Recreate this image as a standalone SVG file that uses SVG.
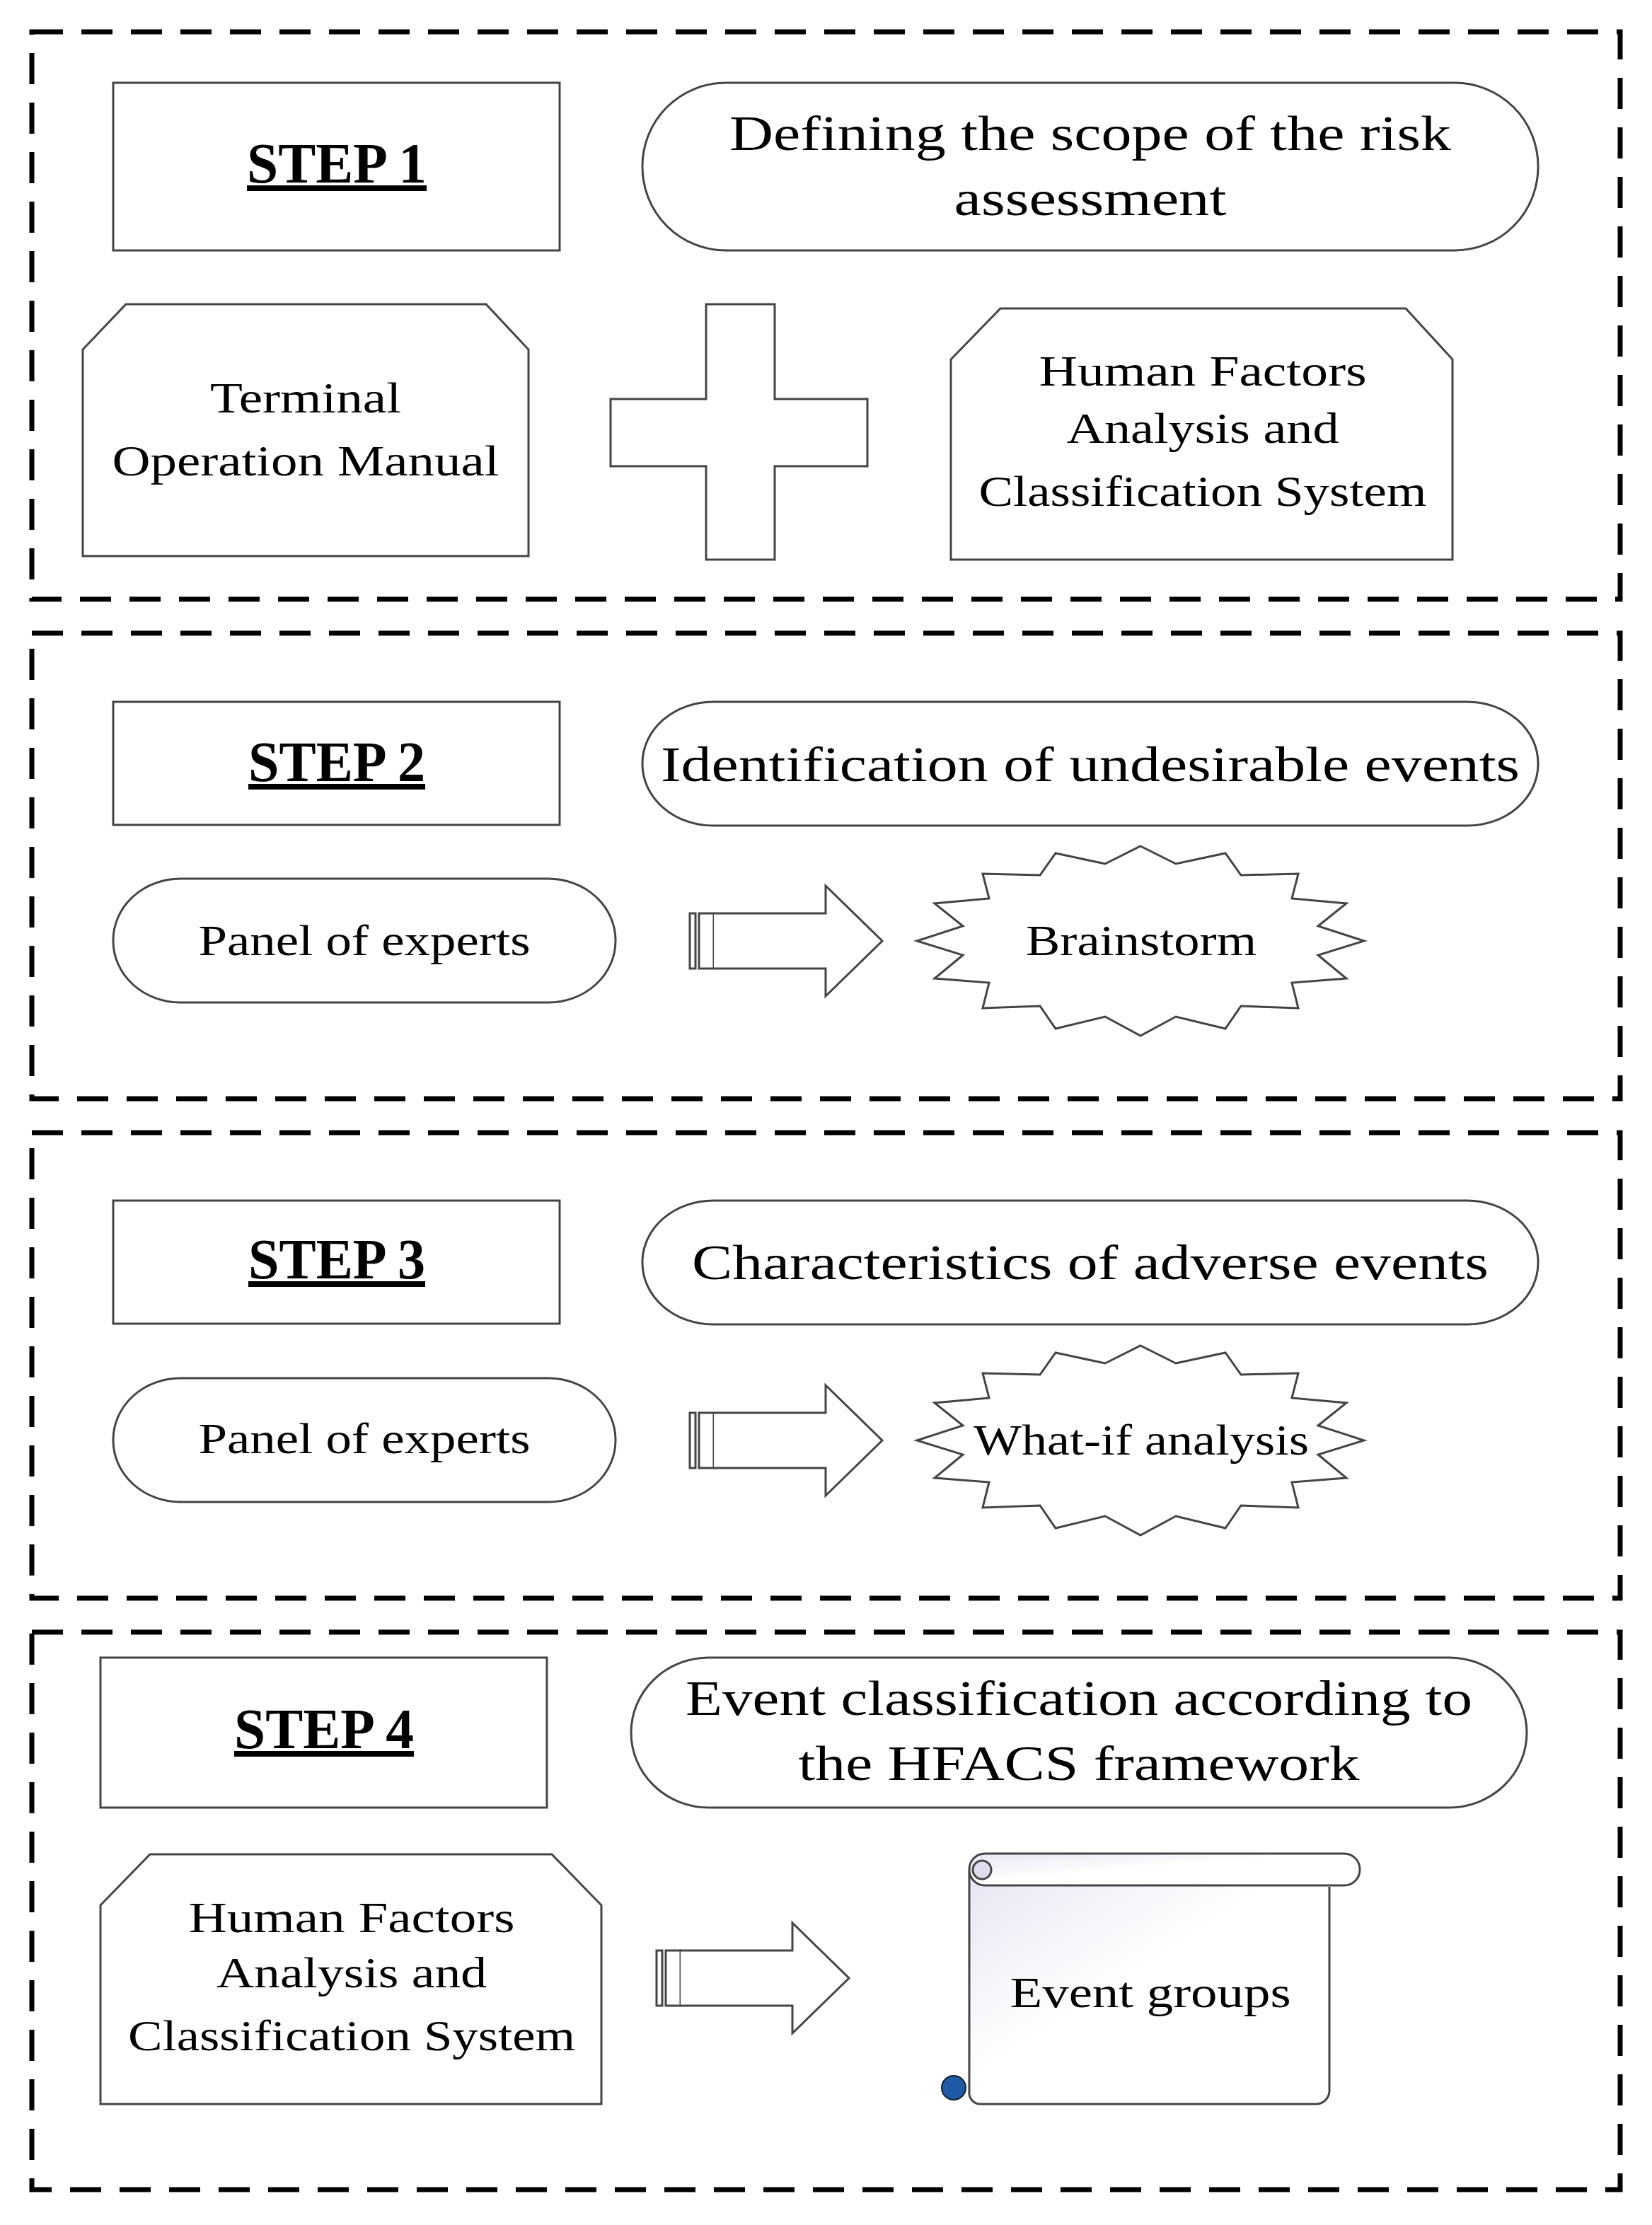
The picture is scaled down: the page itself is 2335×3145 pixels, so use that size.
<svg xmlns="http://www.w3.org/2000/svg" width="2335" height="3145" viewBox="0 0 2335 3145">
<style>
.frame{fill:none;stroke:#000;stroke-width:7;stroke-dasharray:44 26}
.sh{fill:#fff;stroke:#444;stroke-width:3}
.t{font-family:"Liberation Serif","DejaVu Serif",serif;fill:#000;text-anchor:middle}
.step{font-weight:bold;font-size:80px;text-decoration:underline}
.big{font-size:70px}
.mid{font-size:62px}
</style>
<defs>
<linearGradient id="sg" x1="0" y1="0" x2="1" y2="1"><stop offset="0" stop-color="#e6e6f4"/><stop offset="0.45" stop-color="#ffffff"/></linearGradient>
<path id="star" d="M0,-134 L50,-109 L120,-124 L142,-93 L223,-95 L214,-60 L291,-53 L251,-21 L316,0 L251,20 L291,53 L214,59 L223,95 L142,92 L120,124 L50,107 L0,134 L-50,107 L-120,124 L-142,92 L-223,95 L-214,59 L-291,53 L-251,20 L-316,0 L-251,-21 L-291,-53 L-214,-60 L-223,-95 L-142,-93 L-120,-124 L-50,-109 Z"/>
<g id="arrow">
<rect x="0" y="-39" width="8" height="78"/>
<rect x="13" y="-39" width="21" height="78"/>
<path d="M34,-39 H192 V-78 L272,0 L192,78 V39 H34"/>
</g>
</defs>
<g id="frames">
<rect class="frame" x="45" y="45" width="2245" height="802"/>
<rect class="frame" x="45" y="895" width="2245" height="658"/>
<rect class="frame" x="45" y="1601" width="2245" height="658"/>
<rect class="frame" x="45" y="2307" width="2245" height="788"/>
</g>
<g id="step1">
<rect class="sh" x="160" y="117" width="631" height="237"/>
<text class="t step" x="476" y="258" textLength="254" lengthAdjust="spacingAndGlyphs">STEP 1</text>
</g>
<g id="scope">
<rect class="sh" x="908" y="117" width="1266" height="237" rx="118" ry="118"/>
<text class="t big" x="1541" y="212" textLength="1020" lengthAdjust="spacingAndGlyphs">Defining the scope of the risk</text>
<text class="t big" x="1541" y="304" textLength="385" lengthAdjust="spacingAndGlyphs">assessment</text>
</g>
<g id="tom">
<path class="sh" d="M178,430 H687 L747,494 V786 H117 V494 Z"/>
<text class="t mid" x="432" y="583" textLength="270" lengthAdjust="spacingAndGlyphs">Terminal</text>
<text class="t mid" x="432" y="672" textLength="547" lengthAdjust="spacingAndGlyphs">Operation Manual</text>
</g>
<g id="plus">
<path class="sh" d="M998,430 H1095 V564 H1226 V659 H1095 V791 H998 V659 H863 V564 H998 Z"/>
</g>
<g id="hfacs1">
<path class="sh" d="M1414,436 H1987 L2053,508 V791 H1344 V508 Z"/>
<text class="t mid" x="1700" y="545" textLength="463" lengthAdjust="spacingAndGlyphs">Human Factors</text>
<text class="t mid" x="1700" y="626" textLength="385" lengthAdjust="spacingAndGlyphs">Analysis and</text>
<text class="t mid" x="1700" y="715" textLength="633" lengthAdjust="spacingAndGlyphs">Classification System</text>
</g>
<g id="step2">
<rect class="sh" x="160" y="992" width="631" height="174"/>
<text class="t step" x="476" y="1104" textLength="250" lengthAdjust="spacingAndGlyphs">STEP 2</text>
</g>
<g id="ident">
<rect class="sh" x="908" y="992" width="1266" height="175" rx="100" ry="87"/>
<text class="t big" x="1541" y="1104" textLength="1214" lengthAdjust="spacingAndGlyphs">Identification of undesirable events</text>
</g>
<g id="panel2">
<rect class="sh" x="160" y="1242" width="710" height="175" rx="95" ry="87"/>
<text class="t mid" x="515" y="1350" textLength="469" lengthAdjust="spacingAndGlyphs">Panel of experts</text>
</g>
<g id="brain">
<use href="#star" class="sh" x="1612" y="1330"/>
<text class="t mid" x="1613" y="1350" textLength="326" lengthAdjust="spacingAndGlyphs">Brainstorm</text>
</g>
<g id="step3">
<rect class="sh" x="160" y="1697" width="631" height="174"/>
<text class="t step" x="476" y="1807" textLength="250" lengthAdjust="spacingAndGlyphs">STEP 3</text>
</g>
<g id="chars">
<rect class="sh" x="908" y="1697" width="1266" height="175" rx="100" ry="87"/>
<text class="t big" x="1541" y="1808" textLength="1126" lengthAdjust="spacingAndGlyphs">Characteristics of adverse events</text>
</g>
<g id="panel3">
<rect class="sh" x="160" y="1948" width="710" height="175" rx="95" ry="87"/>
<text class="t mid" x="515" y="2054" textLength="469" lengthAdjust="spacingAndGlyphs">Panel of experts</text>
</g>
<g id="whatif">
<use href="#star" class="sh" x="1612" y="2036"/>
<text class="t mid" x="1613" y="2056" textLength="474" lengthAdjust="spacingAndGlyphs">What-if analysis</text>
</g>
<g id="step4">
<rect class="sh" x="142" y="2343" width="631" height="212"/>
<text class="t step" x="458" y="2471" textLength="254" lengthAdjust="spacingAndGlyphs">STEP 4</text>
</g>
<g id="eventclass">
<rect class="sh" x="892" y="2343" width="1266" height="212" rx="110" ry="106"/>
<text class="t big" x="1525" y="2424" textLength="1112" lengthAdjust="spacingAndGlyphs">Event classification according to</text>
<text class="t big" x="1525" y="2516" textLength="793" lengthAdjust="spacingAndGlyphs">the HFACS framework</text>
</g>
<g id="hfacs4">
<path class="sh" d="M212,2621 H780 L850,2693 V2974 H142 V2693 Z"/>
<text class="t mid" x="497" y="2731" textLength="461" lengthAdjust="spacingAndGlyphs">Human Factors</text>
<text class="t mid" x="497" y="2809" textLength="382" lengthAdjust="spacingAndGlyphs">Analysis and</text>
<text class="t mid" x="497" y="2898" textLength="632" lengthAdjust="spacingAndGlyphs">Classification System</text>
</g>
<g id="groups">
<path d="M1370,2645 V2956 A16,16 0 0 0 1386,2974 H1860 A19,19 0 0 0 1879,2956 V2667" fill="url(#sg)" stroke="#444" stroke-width="3"/>
<rect x="1370" y="2620" width="552" height="45" rx="22" fill="url(#sg)" stroke="#444" stroke-width="3"/>
<circle cx="1388" cy="2643" r="13" fill="#dde" stroke="#444" stroke-width="3"/>
<circle cx="1348" cy="2951" r="17" fill="#1f5aa6" stroke="#123" stroke-width="2"/>
<text class="t mid" x="1626" y="2837" textLength="397" lengthAdjust="spacingAndGlyphs">Event groups</text>
</g>
<g id="connectors" class="sh">
<use href="#arrow" x="975" y="1330"/>
<use href="#arrow" x="975" y="2036"/>
<use href="#arrow" x="928" y="2796"/>
</g>
</svg>
